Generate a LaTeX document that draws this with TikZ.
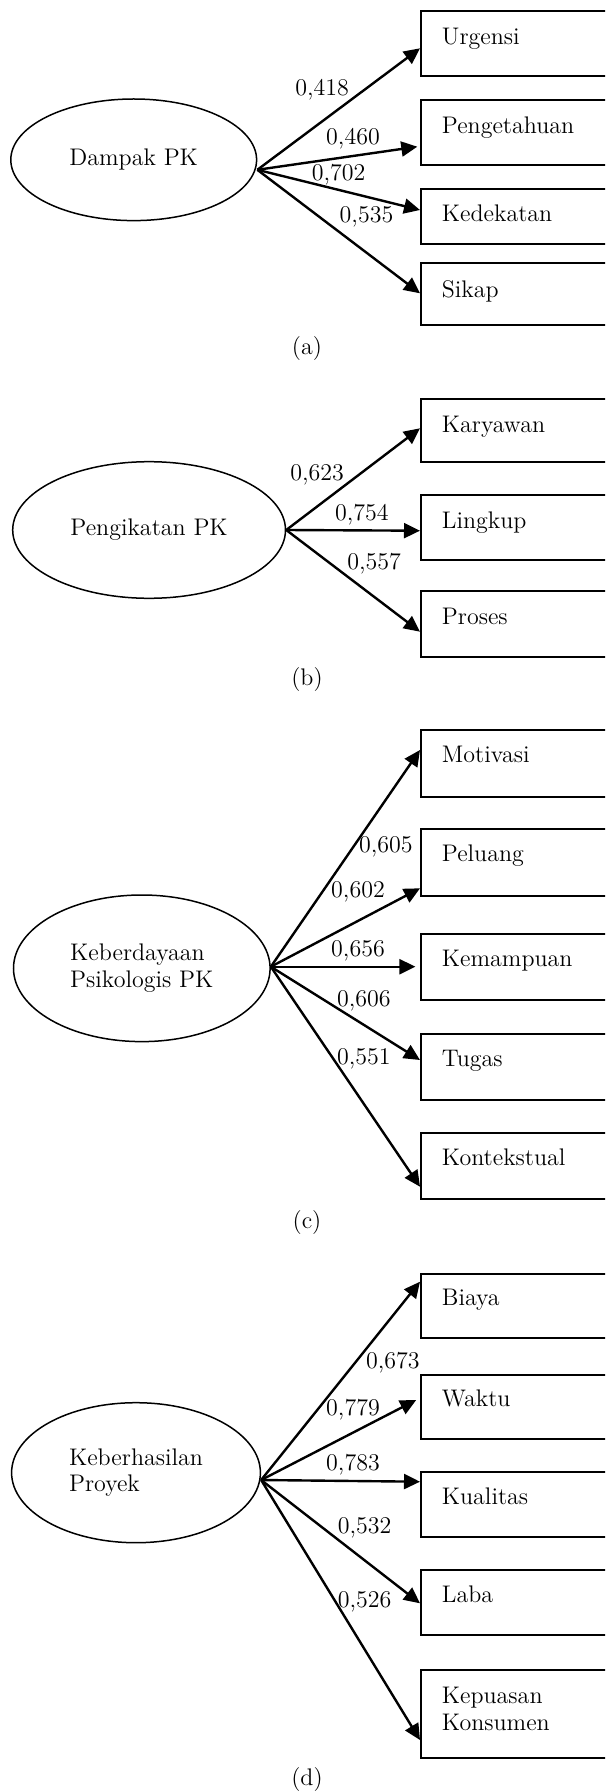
\documentclass[tikz,border=0pt]{standalone}
\usetikzlibrary{arrows.meta,shapes.geometric,calc}
\begin{document}
\begin{tikzpicture}[x=0.5pt,y=-0.5pt,
 every node/.style={font=\fontsize{12}{13.3}\selectfont},
 lat/.style={draw, ellipse, line width=0.75pt, inner sep=0pt, align=left},
 ind/.style={draw, rectangle, line width=1pt, anchor=north west, minimum width=200pt, inner sep=0pt},
 itxt/.style={anchor=base west, inner sep=0pt, align=left},
 coef/.style={inner sep=0pt},
 captxt/.style={inner sep=0pt},
 arr/.style={-{Triangle[length=8pt,width=7.5pt]}, line width=1.2pt},
]
\useasboundingbox (0,0) rectangle (605,1792);
\clip (0,0) rectangle (605,1792);

% ---------- (a)
\node[lat, minimum width=122.9pt, minimum height=60.8pt] (la) at (133.7,159.8) {Dampak PK};
\coordinate (oa) at ($(la.east)+(0,10)$);
\node[ind, minimum height=32.5pt] (a1) at (420,10) {};
\node[ind, minimum height=32.5pt] (a2) at (420,99.3) {};
\node[ind, minimum height=27.8pt] (a3) at (420,187.7) {};
\node[ind, minimum height=30.8pt] (a4) at (420,262.3) {};
\node[itxt] (a1t) at ($(a1.north west)+(21.5,34.5)$) {Urgensi};
\node[itxt] (a2t) at ($(a2.north west)+(21.5,34.5)$) {Pengetahuan};
\node[itxt] (a3t) at ($(a3.north west)+(21.5,34)$) {Kedekatan};
\node[itxt] (a4t) at ($(a4.north west)+(21.5,35)$) {Sikap};
\draw[arr] (oa) -- ($(a1.north west)+(0,38.3)$);
\draw[arr] (oa) -- ($(a2.north west)+(-2.7,47.4)$);
\draw[arr] (oa) -- ($(a3.north west)+(0,22.3)$);
\draw[arr] (oa) -- ($(a4.north west)+(0,31)$);
\node[coef] (a1c) at (322.2,89.3) {0,418};
\node[coef] (a2c) at (353,138.3) {0,460};
\node[coef] (a3c) at (338.7,175) {0,702};
\node[coef] (a4c) at (366.5,217.3) {0,535};
\node[captxt] (capa) at (307,348.3) {(a)};

% ---------- (b)
\node[lat, minimum width=136.4pt, minimum height=68.3pt] (lb) at (149.1,530) {Pengikatan PK};
\coordinate (ob) at (lb.east);
\node[ind, minimum height=31.35pt] (b1) at (420,398.3) {};
\node[ind, minimum height=32.35pt] (b2) at (420,494) {};
\node[ind, minimum height=33pt] (b3) at (420,590) {};
\node[itxt] (b1t) at ($(b1.north west)+(21.5,34)$) {Karyawan};
\node[itxt] (b2t) at ($(b2.north west)+(21.5,34)$) {Lingkup};
\node[itxt] (b3t) at ($(b3.north west)+(21.5,34)$) {Proses};
\draw[arr] (ob) -- ($(b1.north west)+(0,30)$);
\draw[arr] (ob) -- ($(b2.north west)+(0,36.7)$);
\draw[arr] (ob) -- ($(b3.north west)+(0,41.7)$);
\node[coef] (b1c) at (317.1,475) {0,623};
\node[coef] (b2c) at (361.9,515) {0,754};
\node[coef] (b3c) at (374.2,564) {0,557};
\node[captxt] (capb) at (307,679.3) {(b)};

% ---------- (c)
\node[lat, minimum width=128.3pt, minimum height=73.3pt] (lc) at (141.8,968.3) {Keberdayaan\\Psikologis PK};
\coordinate (oc) at ($(lc.east)+(0,-1.6)$);
\node[ind, minimum height=33.35pt] (c1) at (420,729.3) {};
\node[ind, minimum height=33.35pt] (c2) at (420,828.3) {};
\node[ind, minimum height=33.35pt] (c3) at (420,932.7) {};
\node[ind, minimum height=33.35pt] (c4) at (420,1032.7) {};
\node[ind, minimum height=33.35pt] (c5) at (420,1131.7) {};
\node[itxt] (c1t) at ($(c1.north west)+(21.5,33.4)$) {Motivasi};
\node[itxt] (c2t) at ($(c2.north west)+(21.5,33.4)$) {Peluang};
\node[itxt] (c3t) at ($(c3.north west)+(21.5,33.4)$) {Kemampuan};
\node[itxt] (c4t) at ($(c4.north west)+(21.5,33.4)$) {Tugas};
\node[itxt] (c5t) at ($(c5.north west)+(21.5,33.4)$) {Kontekstual};
\draw[arr] (oc) -- ($(c1.north west)+(0,20.7)$);
\draw[arr] (oc) -- ($(c2.north west)+(0,60)$);
\draw[arr] (oc) -- ($(c3.north west)+(-4.6,34)$);
\draw[arr] (oc) -- ($(c4.north west)+(0,27.3)$);
\draw[arr] (oc) -- ($(c5.north west)+(0,55)$);
\node[coef] (c1c) at (385.8,846.7) {0,605};
\node[coef] (c2c) at (358,891.7) {0,602};
\node[coef] (c3c) at (358,950.7) {0,656};
\node[coef] (c4c) at (363.8,1000.7) {0,606};
\node[coef] (c5c) at (363.8,1059.3) {0,551};
\node[captxt] (capc) at (307,1222.7) {(c)};

% ---------- (d)
\node[lat, minimum width=124.4pt, minimum height=70pt] (ld) at (136,1472.7) {Keberhasilan\\Proyek};
\coordinate (od) at ($(ld.east)+(0,7.3)$);
\node[ind, minimum height=32pt] (d1) at (420,1272.7) {};
\node[ind, minimum height=31.85pt] (d2) at (420,1374) {};
\node[ind, minimum height=32.5pt] (d3) at (420,1471) {};
\node[ind, minimum height=32.5pt] (d4) at (420,1569.3) {};
\node[ind, minimum height=43.85pt] (d5) at (420,1669) {};
\node[itxt] (d1t) at ($(d1.north west)+(21.5,32.5)$) {Biaya};
\node[itxt] (d2t) at ($(d2.north west)+(21.5,32.5)$) {Waktu};
\node[itxt] (d3t) at ($(d3.north west)+(21.5,33)$) {Kualitas};
\node[itxt] (d4t) at ($(d4.north west)+(21.5,33)$) {Laba};
\node[anchor=north west, inner sep=0pt, align=left] (d5t) at ($(d5.north west)+(21.5,18)$) {Kepuasan\\Konsumen};
\draw[arr] (od) -- ($(d1.north west)+(0,9)$);
\draw[arr] (od) -- ($(d2.north west)+(-3.8,26)$);
\draw[arr] (od) -- ($(d3.north west)+(0,10.7)$);
\draw[arr] (od) -- ($(d4.north west)+(0,34)$);
\draw[arr] (od) -- ($(d5.north west)+(0,71)$);
\node[coef] (d1c) at (392.8,1362.7) {0,673};
\node[coef] (d2c) at (353,1409.3) {0,779};
\node[coef] (d3c) at (353,1465) {0,783};
\node[coef] (d4c) at (364.6,1527.7) {0,532};
\node[coef] (d5c) at (364.6,1601.7) {0,526};
\node[captxt] (capd) at (307,1779.3) {(d)};
\end{tikzpicture}
\end{document}
